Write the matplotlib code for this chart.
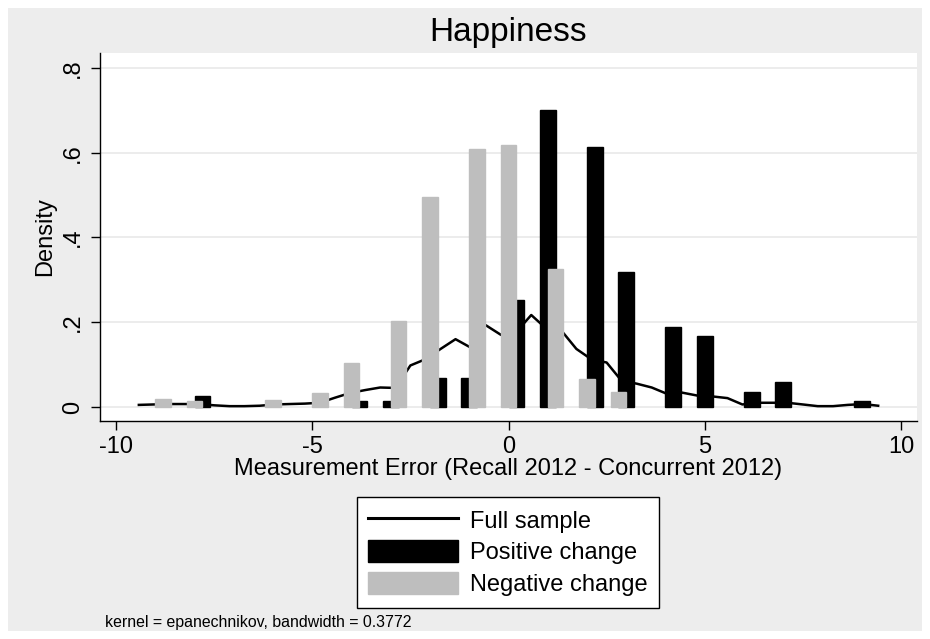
import matplotlib

matplotlib.use("Agg")
import matplotlib.pyplot as plt
from matplotlib.lines import Line2D
from matplotlib.patches import Patch, Rectangle

# Kernel density of the full sample (epanechnikov, 50 evaluation points)
kde_x = [
    -9.42, -9.04, -8.65, -8.27, -7.88, -7.50, -7.11, -6.73, -6.34, -5.96,
    -5.58, -5.19, -4.81, -4.42, -4.04, -3.65, -3.27, -2.88, -2.50, -2.11,
    -1.73, -1.35, -0.96, -0.58, -0.19, 0.19, 0.58, 0.96, 1.35, 1.73,
    2.12, 2.50, 2.88, 3.27, 3.65, 4.04, 4.42, 4.81, 5.19, 5.58,
    5.96, 6.35, 6.73, 7.11, 7.50, 7.88, 8.27, 8.65, 9.04, 9.42,
]
kde_y = [
    0.005, 0.006, 0.007, 0.007, 0.007, 0.004, 0.002, 0.002, 0.003, 0.006,
    0.007, 0.008, 0.010, 0.022, 0.033, 0.040, 0.046, 0.045, 0.098, 0.113,
    0.137, 0.160, 0.140, 0.193, 0.170, 0.176, 0.217, 0.185, 0.180, 0.137,
    0.112, 0.105, 0.062, 0.055, 0.046, 0.031, 0.034, 0.027, 0.025, 0.021,
    0.006, 0.010, 0.010, 0.010, 0.006, 0.002, 0.002, 0.005, 0.007, 0.003,
]

# Histogram bars for respondents whose happiness went up
pos_x = [-7.8, -3.8, -3.0, -1.8, -1.0, 0.2, 1.0, 2.2, 3.0, 4.2, 5.0, 6.2, 7.0, 9.0]
pos_y = [0.025, 0.014, 0.014, 0.069, 0.069, 0.253, 0.700, 0.614, 0.319,
         0.188, 0.167, 0.036, 0.059, 0.014]

# ... and for those whose happiness went down
neg_x = [-8.8, -8.0, -6.0, -4.8, -4.0, -2.8, -2.0, -0.8, 0.0, 1.2, 2.0, 2.8]
neg_y = [0.018, 0.013, 0.017, 0.034, 0.103, 0.202, 0.496, 0.609, 0.618,
         0.326, 0.066, 0.035]

x_ticks = [-10, -5, 0, 5, 10]
y_ticks = [0, 0.2, 0.4, 0.6, 0.8]
y_tick_labels = ["0", ".2", ".4", ".6", ".8"]

BAR_WIDTH = 0.4
POS_COLOR = "#000000"
NEG_COLOR = "#BEBEBE"
REGION_GRAY = "#EDEDED"

plt.rcParams["font.family"] = ["Liberation Sans", "DejaVu Sans"]
plt.rcParams["axes.unicode_minus"] = False


def main():
    W, H = 930, 639
    fig = plt.figure(figsize=(W / 100, H / 100), dpi=100)
    fig.patch.set_facecolor("white")
    # stata-style graph region: light gray panel with a thin white rim
    fig.patches.append(
        Rectangle((8 / W, 8 / H), 1 - 16 / W, 1 - 16 / H,
                  transform=fig.transFigure, facecolor=REGION_GRAY,
                  edgecolor="none", zorder=-10)
    )

    ax = fig.add_axes([100 / W, 1 - 421 / H, 817 / W, 368 / H])
    ax.set_zorder(1)
    ax.set_facecolor("white")

    ax.plot(kde_x, kde_y, color="black", lw=1.8, zorder=2)
    ax.bar(pos_x, pos_y, width=BAR_WIDTH, color=POS_COLOR,
           edgecolor=POS_COLOR, lw=1.0, zorder=3)
    ax.bar(neg_x, neg_y, width=BAR_WIDTH, color=NEG_COLOR,
           edgecolor=NEG_COLOR, lw=1.0, zorder=4)

    ax.set_xlim(-10.41, 10.41)
    ax.set_ylim(-0.033, 0.835)
    ax.set_xticks(x_ticks)
    ax.set_yticks(y_ticks)
    ax.set_yticklabels(y_tick_labels)
    ax.grid(axis="y", color="#EAEAEA", lw=1.3, zorder=0)
    ax.set_axisbelow(True)

    for side in ("top", "right"):
        ax.spines[side].set_visible(False)
    for side in ("left", "bottom"):
        ax.spines[side].set_color("black")
        ax.spines[side].set_linewidth(1.0)

    ax.tick_params(axis="both", labelsize=17, length=6.5, width=1.0,
                   color="black", pad=4)
    ax.tick_params(axis="y", labelrotation=90, pad=5)
    for lab in ax.get_yticklabels():
        lab.set_va("center")

    ax.set_xlabel("Measurement Error (Recall 2012 - Concurrent 2012)",
                  fontsize=17, labelpad=0)
    ax.set_ylabel("Density", fontsize=17, labelpad=4)
    fig.text(508 / W, 1 - 32 / H, "Happiness", fontsize=24,
             ha="center", va="center")

    handles = [
        Line2D([], [], color="black", lw=2.2),
        Patch(facecolor=POS_COLOR, edgecolor=POS_COLOR),
        Patch(facecolor=NEG_COLOR, edgecolor=NEG_COLOR),
    ]
    labels = ["Full sample", "Positive change", "Negative change"]
    leg = fig.legend(handles, labels, loc="upper center",
                     bbox_to_anchor=(508 / W, 1 - 497 / H), fontsize=17,
                     frameon=True, fancybox=False, handlelength=3.8,
                     handleheight=1.05, handletextpad=0.5, labelspacing=0.32,
                     borderpad=0.5, borderaxespad=0)
    leg.get_frame().set_edgecolor("black")
    leg.get_frame().set_linewidth(1.0)
    leg.get_frame().set_facecolor("white")
    leg.get_frame().set_alpha(1.0)

    fig.text(105 / W, 1 - 622 / H,
             "kernel = epanechnikov, bandwidth = 0.3772",
             fontsize=11.4, ha="left", va="center")

    fig.savefig("out.png", dpi=100, facecolor=fig.get_facecolor())
    plt.close(fig)


if __name__ == "__main__":
    main()
